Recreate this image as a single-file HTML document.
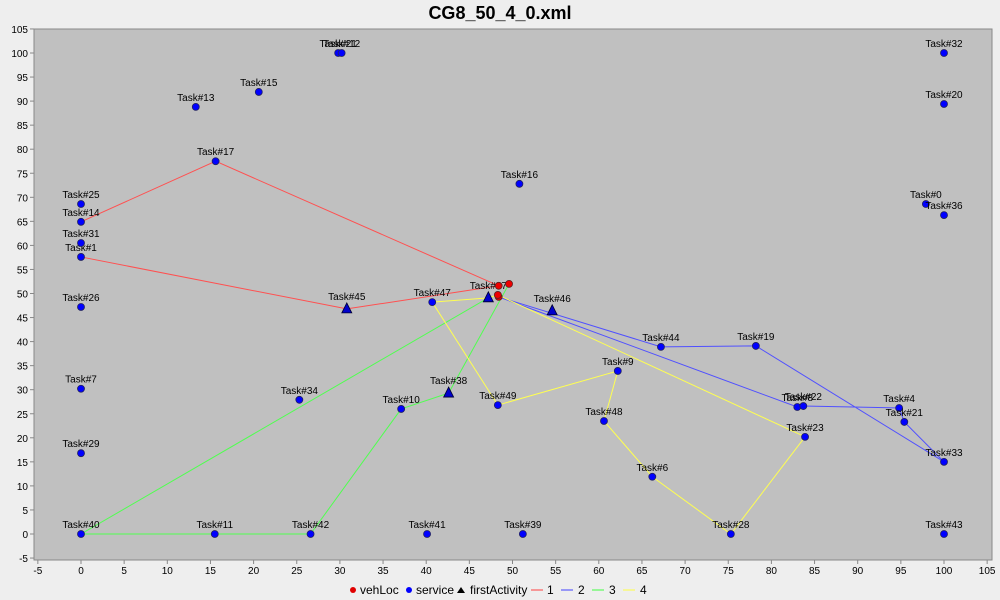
<!DOCTYPE html>
<html><head><meta charset="utf-8"><style>
body{margin:0;background:#eeeeee;font-family:"Liberation Sans",sans-serif}
svg{display:block}
</style></head><body>
<svg id="c" width="1000" height="600">
<rect x="0" y="0" width="1000" height="600" fill="#eeeeee"/>
<text x="500" y="19" text-anchor="middle" font-size="18" font-weight="bold" font-family="Liberation Sans">CG8_50_4_0.xml</text>
<rect x="34" y="29" width="958" height="531" fill="#c0c0c0" stroke="#888"/>
<g id="g"></g>
<g font-size="12" font-family="Liberation Sans">
<circle cx="353" cy="590" r="3" fill="#e00000"/>
<text x="360" y="594">vehLoc</text>
<circle cx="409" cy="590" r="3" fill="#0000ff"/>
<text x="416" y="594">service</text>
<polygon points="461,587 465,593 457,593" fill="#000"/>
<text x="470" y="594">firstActivity</text>
<line x1="531" y1="590" x2="543" y2="590" stroke="#ff4040"/>
<text x="547" y="594">1</text>
<line x1="561" y1="590" x2="573" y2="590" stroke="#4040ff"/>
<text x="578" y="594">2</text>
<line x1="592" y1="590" x2="604" y2="590" stroke="#40ff40"/>
<text x="609" y="594">3</text>
<line x1="623" y1="590" x2="635" y2="590" stroke="#ffff40"/>
<text x="640" y="594">4</text>
</g>
</svg>
<script>
const taskNames=["Task#40","Task#11","Task#42","Task#41","Task#39","Task#28","Task#43","Task#29","Task#7","Task#26","Task#1","Task#31","Task#14","Task#25","Task#13","Task#15","Task#21","Task#12","Task#17","Task#16","Task#32","Task#20","Task#0","Task#36","Task#47","Task#44","Task#19","Task#9","Task#10","Task#34","Task#49","Task#48","Task#6","Task#23","Task#8","Task#22","Task#4","Task#21","Task#33"];
const taskX=[0,15.5,26.6,40.1,51.2,75.3,100,0,0,0,0,0,0,0,13.3,20.6,29.8,30.2,15.6,50.8,100,100,97.9,100,40.7,67.2,78.2,62.2,37.1,25.3,48.3,60.6,66.2,83.9,83,83.7,94.8,95.4,100];
const taskY=[0,0,0,0,0,0,0,16.8,30.2,47.2,57.6,60.5,64.9,68.6,88.8,91.9,100,100,77.5,72.8,100,89.4,68.6,66.3,48.2,38.9,39.1,33.9,26,27.9,26.8,23.5,11.9,20.2,26.4,26.6,26.2,23.3,15];
const firstNames=["Task#45","Task#27","Task#46","Task#38"];
const firstX=[30.8,47.2,54.6,42.6];
const firstY=[46.8,49.1,46.4,29.3];
const vehX=[48.4,49.6,48.4,48.3];
const vehY=[51.6,52,49.3,49.7];
const route1aX=[48.4,15.6,0]; const route1aY=[51.6,77.5,64.9];
const route1bX=[0,30.8,48.4]; const route1bY=[57.6,46.8,51.6];
const route2X=[48.4,67.2,78.2,100,95.4,94.8,83.7,83,48.4]; const route2Y=[49.3,38.9,39.1,15,23.3,26.2,26.6,26.4,49.3];
const route3X=[48.4,47.2,0,15.5,26.6,37.1,42.6,49.6]; const route3Y=[49.7,49.1,0,0,0,26,29.3,52];
const route4X=[48.3,83.9,75.3,66.2,60.6,62.2,48.3,40.7,47.2,48.3]; const route4Y=[49.7,20.2,0,11.9,23.5,33.9,26.8,48.2,49.1,49.7];
const xTicks=[-5,0,5,10,15,20,25,30,35,40,45,50,55,60,65,70,75,80,85,90,95,100,105];
const yTicks=[-5,0,5,10,15,20,25,30,35,40,45,50,55,60,65,70,75,80,85,90,95,100,105];
const sx=v=>81+v*8.63, sy=v=>534-v*4.81;
const g=document.getElementById('g'), NS="http://www.w3.org/2000/svg";
function mk(t,a){const e=document.createElementNS(NS,t);for(const k in a)e.setAttribute(k,a[k]);g.appendChild(e);return e;}
xTicks.forEach(v=>{
 const l=mk('line',{x1:sx(v),x2:sx(v),y1:560,y2:564,stroke:'#888'});
 
 
 const t=mk('text',{x:sx(v),y:574,'text-anchor':'middle','font-size':10,'font-family':'Liberation Sans'});t.textContent=v;
 
 
});
yTicks.forEach(v=>{
 const l=mk('line',{x1:30,x2:34,y1:sy(v),y2:sy(v),stroke:'#888'});
 
 
 const t=mk('text',{x:28,y:sy(v)+4,'text-anchor':'end','font-size':10,'font-family':'Liberation Sans'});t.textContent=v;
 
 
});
function route(xs,ys,c,n){const p=mk('polyline',{points:xs.map((x,i)=>sx(x)+','+sy(ys[i])).join(' '),fill:'none',stroke:c,'stroke-width':1});
 
 }
route(route1aX,route1aY,'#ff5050','route-1a');
route(route1bX,route1bY,'#ff5050','route-1b');
route(route2X,route2Y,'#5050ff','route-2');
route(route3X,route3Y,'#50ff50','route-3');
route(route4X,route4Y,'#ffff50','route-4');
function label(x,y,s){const t=mk('text',{x:sx(x),y:sy(y)-6,'text-anchor':'middle','font-size':10,'font-family':'Liberation Sans'});t.textContent=s;
 
 }
taskX.forEach((x,i)=>{const c=mk('circle',{cx:sx(x),cy:sy(taskY[i]),r:3.5,fill:'#0000ff',stroke:'#202060','stroke-width':0.8});
 
 
 label(x,taskY[i],taskNames[i]);});
firstX.forEach((x,i)=>{const X=sx(x),Y=sy(firstY[i]);const p=mk('polygon',{points:`${X},${Y-6} ${X+5},${Y+4} ${X-5},${Y+4}`,fill:'#0000cc',stroke:'#000030','stroke-width':0.8});
 
 
 label(x,firstY[i]+0.6,firstNames[i]);});
vehX.forEach((x,i)=>{const c=mk('circle',{cx:sx(x),cy:sy(vehY[i]),r:3.5,fill:'#ee0000',stroke:'#602020','stroke-width':0.8});
 
 });
</script>
</body></html>
